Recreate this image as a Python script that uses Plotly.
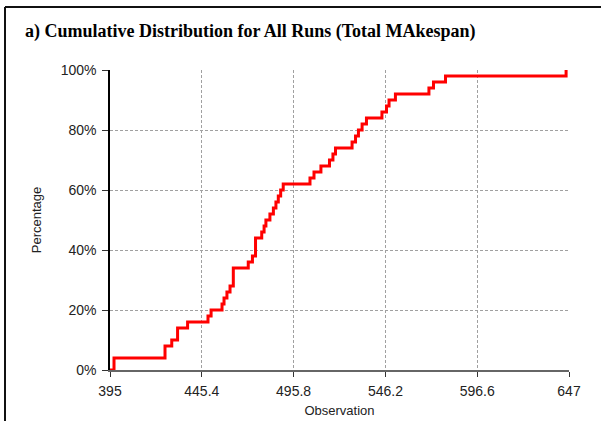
import plotly.graph_objects as go

# Step positions (observation values) and cumulative percentage reached at each step
observations = [397.2, 425.2, 428.9, 432.1, 437.6, 448.8, 450.5, 456.5, 457.6, 459.2,
                460.9, 462.7, 470.9, 473.2, 474.9, 478.3, 479.6, 480.6, 482.8, 484.7,
                486.1, 487.4, 488.7, 490.1, 504.8, 507.0, 510.8, 515.5, 517.4, 518.8,
                527.9, 529.8, 531.4, 533.4, 535.8, 544.3, 546.8, 548.2, 551.7, 570.1,
                572.6, 579.2, 645.4]
cum_pct = [4, 8, 10, 14, 16, 18, 20, 22, 24, 26,
           28, 34, 36, 38, 44, 46, 48, 50, 52, 54,
           56, 58, 60, 62, 64, 66, 68, 70, 72, 74,
           76, 78, 80, 82, 84, 86, 88, 90, 92, 94,
           96, 98, 100]
x_start, y_start = 395, 0
x_ticks = [395, 445.4, 495.8, 546.2, 596.6, 647]
x_tick_labels = ["395", "445.4", "495.8", "546.2", "596.6", "647"]
y_ticks = [0, 20, 40, 60, 80, 100]
y_tick_labels = ["0%", "20%", "40%", "60%", "80%", "100%"]

title_text = "a) Cumulative Distribution for All Runs (Total MAkespan)"

xs = [x_start] + observations
ys = [y_start] + cum_pct

fig = go.Figure()
fig.add_trace(go.Scatter(
    x=xs, y=ys, mode="lines", line=dict(color="#ff0000", width=3, shape="hv"),
    showlegend=False, hoverinfo="skip"))

W, H = 601, 421
L, R, T, B = 110, 32, 70, 51
pw, ph = W - L - R, H - T - B

def px2x(px):
    return (px - L) / pw

def py2y(py):
    return (H - B - py) / ph

sans = "Liberation Sans, Arial, sans-serif"
tickfont = dict(family=sans, size=14, color="#222222")

frame = dict(color="#111111", width=2)

fig.update_layout(
    width=W, height=H,
    margin=dict(l=L, r=R, t=T, b=B),
    paper_bgcolor="white", plot_bgcolor="white",
    xaxis=dict(
        range=[395, 647], tickmode="array", tickvals=x_ticks, ticktext=x_tick_labels,
        showgrid=True, gridcolor="#a0a0a0", griddash="3px,2px", gridwidth=1,
        showline=True, linecolor="#666666", linewidth=2,
        ticks="outside", ticklen=5, tickcolor="#333333", ticklabelstandoff=2,
        tickfont=tickfont, zeroline=False, automargin=False,
        title=dict(text="Observation", font=dict(family=sans, size=13, color="#222222"), standoff=8),
    ),
    yaxis=dict(
        range=[0, 100], tickmode="array", tickvals=y_ticks, ticktext=y_tick_labels,
        showgrid=True, gridcolor="#a0a0a0", griddash="3px,2px", gridwidth=1,
        showline=True, linecolor="#000000", linewidth=1.5,
        ticks="outside", ticklen=6, tickcolor="#333333", ticklabelstandoff=3,
        tickfont=tickfont, zeroline=False, automargin=False,
        title=dict(text="Percentage", font=dict(family=sans, size=13, color="#222222"), standoff=16),
    ),
    shapes=[
        dict(type="line", xref="paper", yref="paper",
             x0=px2x(5), x1=px2x(5), y0=py2y(430), y1=py2y(7), line=frame, layer="above"),
        dict(type="line", xref="paper", yref="paper",
             x0=px2x(5), x1=px2x(610), y0=py2y(7), y1=py2y(7), line=frame, layer="above"),
    ],
    annotations=[dict(text="<b>" + title_text + "</b>", xref="paper", yref="paper",
                      x=px2x(23), y=py2y(32), xanchor="left", yanchor="middle",
                      showarrow=False,
                      font=dict(family="Liberation Serif, Times New Roman, serif", size=18, color="#000000"))],
)

fig.write_html("out.html", config={"displayModeBar": False},
               post_script="document.body.style.margin='0';document.body.style.overflow='hidden';")
